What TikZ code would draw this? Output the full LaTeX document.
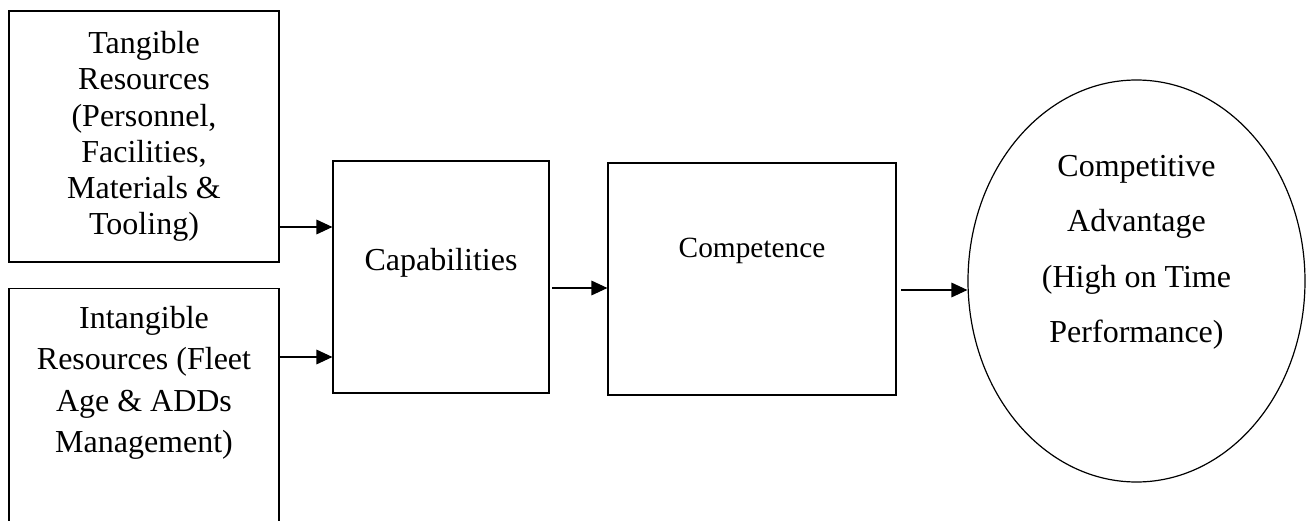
\documentclass[tikz,border=0pt]{standalone}
\usepackage{fontspec}
\setmainfont{Liberation Serif}
\usetikzlibrary{arrows.meta,shapes.geometric}
\tikzset{
  box/.style={draw,line width=0.9pt,rectangle,align=center,inner sep=0pt},
  arr/.style={-{Triangle[length=12pt,width=11pt]},line width=0.9pt}
}
\begin{document}
\begin{tikzpicture}[x=0.75pt,y=-0.75pt]
  \clip (0,0) rectangle (1311,521);
  \node (tang) [box,minimum width=202.5pt,minimum height=188.25pt,font=\fontsize{24}{27.2}\selectfont] at (144,136.5) {Tangible\\Resources\\(Personnel,\\Facilities,\\Materials \&\\Tooling)};
  \node (intang) [box,anchor=north,minimum width=202.5pt,inner ysep=13pt,text depth=250pt,font=\fontsize{24}{31.2}\selectfont] at (144,288) {Intangible\\Resources (Fleet\\Age \& ADDs\\Management)};
  \node (cap) [box,minimum width=162pt,minimum height=174pt,text depth=27pt,font=\fontsize{24}{27}\selectfont] at (441,277) {Capabilities};
  \node (comp) [box,minimum width=216pt,minimum height=174pt,text depth=47.5pt,font=\fontsize{22}{25}\selectfont] at (752,279) {Competence};
  \node (adv) [draw,ellipse,line width=0.9pt,inner sep=0pt,align=center,minimum width=252.75pt,minimum height=301.5pt,text depth=48pt,font=\fontsize{24}{41.6}\selectfont] at (1136.5,281) {Competitive\\Advantage\\(High on Time\\Performance)};
  \draw[arr] (tang.east |- 0,227) -- (cap.west |- 0,227);
  \draw[arr] (intang.east |- 0,357) -- (cap.west |- 0,357);
  \draw[arr,shorten <=2pt] (cap.east |- 0,288) -- (comp.west |- 0,288);
  \draw[arr,shorten <=3.5pt] (comp.east |- 0,290) -- (adv.west |- 0,290);
\end{tikzpicture}
\end{document}
